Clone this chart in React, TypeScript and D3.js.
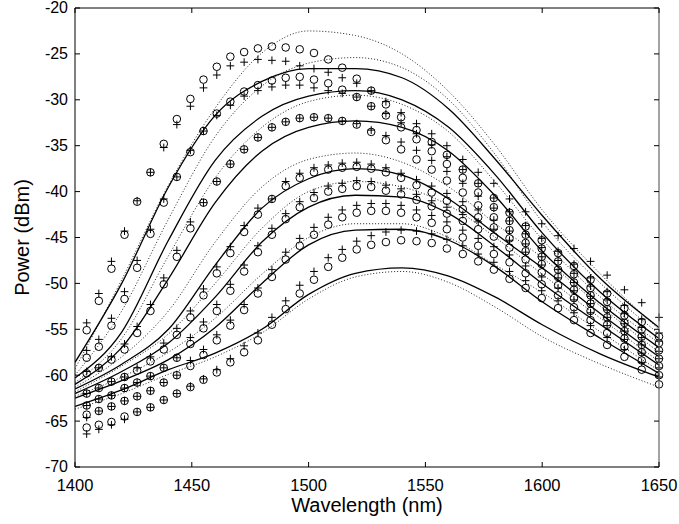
import React from "react";
import * as d3 from "d3";

// Sampled wavelengths (nm) of the marker data
const wavelengths = [1405, 1410.2, 1415.6, 1421.2, 1426.6, 1432.3, 1438, 1443.6, 1449.4, 1455, 1460.7, 1466.5, 1472.4, 1478.3, 1484.3, 1490.2, 1496.2, 1502.3, 1508.4, 1514.4, 1520.6, 1526.8, 1533.1, 1539.6, 1546.2, 1552.7, 1559.2, 1566, 1572.6, 1579.3, 1586, 1592.9, 1599.8, 1606.8, 1613.6, 1620.7, 1627.8, 1635.2, 1642.6, 1650];

// Measured power (dBm), circles
const measured1 = [-55.1, -51.9, -48.4, -44.7, -41.1, -37.9, -34.8, -32.1, -29.9, -27.8, -26.4, -25.3, -24.8, -24.4, -24.2, -24.3, -24.5, -24.9, -25.6, -26.5, -27.7, -29.0, -30.5, -31.9, -33.3, -34.6, -36.0, -37.6, -39.1, -40.7, -42.3, -43.8, -45.3, -46.7, -48.1, -49.6, -51.1, -52.7, -54.2, -55.8];
const measured2 = [-58.1, -56.9, -54.6, -51.7, -48.3, -44.6, -41.2, -38.4, -35.7, -33.4, -31.5, -30.2, -29.1, -28.4, -27.9, -27.6, -27.5, -27.8, -28.2, -28.9, -29.7, -30.7, -31.7, -33.0, -34.3, -35.6, -37.0, -38.5, -40.1, -41.7, -43.2, -44.7, -46.2, -47.6, -49.0, -50.5, -52.0, -53.5, -55.0, -56.5];
const measured3 = [-59.8, -59.2, -58.3, -57.2, -55.4, -53.0, -50.1, -47.1, -44.0, -41.2, -38.9, -37.0, -35.4, -34.1, -33.0, -32.4, -32.0, -31.9, -32.0, -32.3, -32.7, -33.5, -34.4, -35.4, -36.5, -37.6, -38.8, -40.1, -41.5, -42.8, -44.2, -45.6, -47.1, -48.5, -49.9, -51.3, -52.8, -54.3, -55.8, -57.3];
const measured4 = [-62.0, -61.4, -60.7, -60.2, -59.5, -58.5, -57.2, -55.6, -53.7, -51.3, -48.9, -46.7, -44.4, -42.5, -40.8, -39.4, -38.5, -37.9, -37.6, -37.4, -37.3, -37.5, -37.9, -38.5, -39.3, -40.1, -41.0, -41.9, -42.8, -43.9, -45.1, -46.5, -47.9, -49.3, -50.7, -52.2, -53.7, -55.2, -56.7, -58.2];
const measured5 = [-63.3, -62.6, -62.2, -61.4, -60.8, -60.1, -59.2, -58.1, -56.6, -54.9, -53.0, -50.8, -48.7, -46.6, -44.7, -43.0, -41.7, -40.7, -40.0, -39.7, -39.4, -39.5, -39.9, -40.3, -40.9, -41.6, -42.4, -43.2, -44.1, -44.9, -46.1, -47.4, -48.8, -50.2, -51.6, -53.0, -54.5, -56.0, -57.5, -59.0];
const measured6 = [-64.3, -63.9, -63.4, -62.8, -62.3, -61.7, -60.8, -60.0, -59.0, -57.8, -56.2, -54.6, -52.9, -51.1, -49.3, -47.4, -45.9, -44.7, -43.6, -42.8, -42.3, -42.1, -42.1, -42.3, -42.8, -43.4, -44.1, -45.0, -45.9, -46.8, -47.7, -48.9, -50.1, -51.3, -52.6, -54.0, -55.4, -56.9, -58.4, -60.0];
const measured7 = [-65.7, -65.4, -65.1, -64.5, -64.0, -63.5, -62.7, -62.0, -61.3, -60.5, -59.7, -58.6, -57.5, -56.2, -54.5, -52.8, -51.1, -49.6, -48.2, -47.2, -46.3, -45.8, -45.5, -45.3, -45.4, -45.6, -46.2, -46.8, -47.6, -48.5, -49.5, -50.5, -51.6, -52.7, -54.0, -55.4, -56.7, -58.0, -59.4, -61.0];

// Simulated power (dBm), plus signs
const simulated1 = [-54.3, -51.1, -47.6, -44.3, -41.0, -37.9, -35.2, -32.7, -30.7, -28.7, -27.3, -26.3, -25.9, -25.6, -25.7, -25.8, -26.3, -26.6, -27.0, -27.6, -28.2, -29.0, -30.2, -31.4, -32.6, -33.7, -35.0, -36.5, -37.9, -39.1, -40.8, -42.2, -43.5, -44.8, -46.2, -47.6, -49.1, -50.7, -52.1, -53.7];
const simulated2 = [-57.3, -56.1, -53.8, -50.9, -47.5, -44.1, -40.8, -38.4, -35.5, -33.4, -31.7, -30.6, -29.6, -29.0, -28.6, -28.4, -28.4, -28.7, -29.0, -29.3, -29.7, -30.7, -31.5, -32.5, -33.7, -34.9, -36.2, -37.6, -39.1, -40.7, -42.2, -43.7, -45.1, -46.5, -47.9, -49.4, -50.9, -52.4, -53.9, -55.4];
const simulated3 = [-59.6, -59.2, -58.0, -56.6, -54.7, -52.3, -49.4, -46.4, -43.3, -41.2, -38.9, -37.0, -35.4, -34.1, -33.0, -32.4, -32.0, -31.9, -32.0, -32.3, -32.6, -33.3, -33.9, -34.6, -35.5, -36.6, -37.8, -39.1, -40.5, -41.8, -43.2, -44.6, -46.1, -47.5, -48.9, -50.3, -51.8, -53.3, -54.8, -56.3];
const simulated4 = [-62.0, -61.4, -60.7, -60.2, -59.2, -58.0, -56.5, -54.9, -53.0, -50.6, -48.2, -46.0, -43.7, -41.8, -40.8, -38.9, -38.0, -37.4, -37.1, -36.9, -36.8, -37.0, -37.4, -38.0, -38.7, -39.4, -40.2, -41.1, -42.0, -43.1, -44.3, -45.7, -47.1, -48.5, -49.9, -51.4, -52.9, -54.4, -55.9, -57.4];
const simulated5 = [-63.3, -62.6, -62.2, -61.4, -60.8, -60.1, -59.2, -58.1, -55.9, -54.2, -52.3, -50.1, -48.0, -45.9, -44.0, -42.4, -41.1, -40.1, -39.4, -39.1, -38.8, -38.9, -39.3, -39.7, -40.3, -41.0, -41.7, -42.5, -43.3, -44.1, -45.3, -46.6, -48.0, -49.4, -50.8, -52.2, -53.7, -55.2, -56.7, -58.2];
const simulated6 = [-64.6, -63.9, -63.4, -62.8, -62.3, -61.7, -60.8, -60.0, -58.4, -57.2, -55.6, -54.0, -52.3, -50.5, -48.5, -46.6, -45.1, -43.9, -42.8, -42.0, -41.5, -41.3, -41.3, -41.5, -42.0, -42.6, -43.3, -44.2, -45.1, -46.0, -46.9, -48.1, -49.3, -50.5, -51.8, -53.2, -54.6, -56.1, -57.6, -59.2];
const simulated7 = [-66.4, -65.9, -65.4, -64.8, -64.0, -63.5, -62.7, -62.0, -61.2, -60.4, -59.4, -58.2, -56.8, -55.4, -53.7, -51.9, -50.2, -48.7, -47.2, -46.3, -45.4, -44.8, -44.4, -44.2, -44.3, -44.6, -45.2, -45.9, -46.8, -47.7, -48.7, -49.7, -50.8, -51.9, -53.2, -54.6, -55.9, -57.2, -58.6, -60.2];

// Model curves, sampled on a coarse wavelength grid
const curveGrid = [1400, 1420, 1440, 1460, 1480, 1500, 1520, 1540, 1560, 1580, 1600, 1625, 1650];
const solidFit1 = [-58.6, -50.0, -39.5, -31.7, -28.0, -26.6, -26.6, -27.6, -31.0, -36.5, -42.6, -49.5, -54.8];
const solidFit2 = [-60.3, -55.3, -45.3, -36.6, -31.8, -29.6, -29.0, -30.0, -33.0, -38.2, -44.5, -51.0, -56.0];
const solidFit3 = [-61.0, -57.0, -49.5, -41.2, -35.6, -33.0, -32.3, -33.0, -35.6, -40.5, -46.5, -52.2, -57.0];
const solidFit4 = [-61.5, -58.8, -55.0, -48.0, -41.8, -38.6, -37.5, -38.2, -40.8, -44.6, -48.3, -53.3, -58.0];
const solidFit5 = [-62.0, -59.6, -56.5, -51.5, -45.5, -41.7, -40.4, -40.6, -42.4, -46.0, -50.0, -54.5, -58.9];
const solidFit6 = [-62.5, -60.6, -58.3, -54.8, -50.0, -45.8, -44.2, -44.1, -45.3, -48.2, -52.0, -56.0, -59.8];
const solidFit7 = [-63.4, -61.6, -59.4, -57.6, -55.0, -51.2, -48.9, -48.3, -49.2, -51.5, -54.5, -57.7, -60.2];
const dottedFit1 = [-59.3, -49.6, -39.3, -30.9, -24.9, -22.5, -23.0, -25.0, -29.1, -35.0, -42.0, -49.0, -55.0];
const dottedFit2 = [-60.0, -53.0, -43.0, -34.0, -28.5, -26.0, -25.4, -26.5, -30.0, -36.0, -43.3, -50.0, -55.5];
const dottedFit3 = [-60.8, -56.0, -47.0, -38.5, -33.0, -30.2, -29.5, -30.5, -33.5, -39.0, -45.2, -51.5, -56.5];
const dottedFit4 = [-61.3, -58.0, -53.0, -45.5, -39.5, -36.5, -35.8, -36.8, -39.5, -43.5, -47.2, -52.5, -57.5];
const dottedFit5 = [-61.8, -59.0, -55.5, -50.0, -44.0, -40.0, -38.9, -39.5, -41.5, -45.0, -49.0, -53.8, -58.5];
const dottedFit6 = [-62.3, -60.2, -57.5, -53.8, -49.0, -45.0, -43.5, -43.5, -45.0, -48.0, -51.0, -55.3, -59.5];
const dottedFit7 = [-63.7, -62.0, -59.9, -58.0, -55.4, -51.7, -49.3, -48.7, -49.9, -52.6, -55.8, -58.8, -61.3];

const xTicks = [1400, 1450, 1500, 1550, 1600, 1650];
const yTicks = [-70, -65, -60, -55, -50, -45, -40, -35, -30, -25, -20];

const measuredSets = [measured1, measured2, measured3, measured4, measured5, measured6, measured7];
const simulatedSets = [simulated1, simulated2, simulated3, simulated4, simulated5, simulated6, simulated7];
const solidSets = [solidFit1, solidFit2, solidFit3, solidFit4, solidFit5, solidFit6, solidFit7];
const dottedSets = [dottedFit1, dottedFit2, dottedFit3, dottedFit4, dottedFit5, dottedFit6, dottedFit7];

const FONT = "'Liberation Sans', Arial, Helvetica, sans-serif";

export default function App() {
  const width = 679;
  const height = 524;
  const left = 75, right = 659, top = 8, bottom = 467;

  const x = d3.scaleLinear().domain([1400, 1650]).range([left, right]);
  const y = d3.scaleLinear().domain([-70, -20]).range([bottom, top]);

  const line = d3
    .line<number>()
    .x((_, i) => x(curveGrid[i]))
    .y((d) => y(d))
    .curve(d3.curveMonotoneX);

  const r = 3.8;
  const p = 3.9;
  const tick = 5;

  return (
    <svg
      width={width}
      height={height}
      viewBox={`0 0 ${width} ${height}`}
      style={{ position: "fixed", left: 0, top: 0, background: "#fff" }}
    >
      <rect x={0} y={0} width={width} height={height} fill="#fff" />
      <defs>
        <clipPath id="plot-area">
          <rect x={left} y={top} width={right - left} height={bottom - top} />
        </clipPath>
      </defs>

      <g clipPath="url(#plot-area)">
        {dottedSets.map((s, i) => (
          <path
            key={`d${i}`}
            d={line(s) || ""}
            fill="none"
            stroke="#222"
            strokeWidth={1}
            strokeDasharray="1 2"
          />
        ))}
        {solidSets.map((s, i) => (
          <path key={`s${i}`} d={line(s) || ""} fill="none" stroke="#000" strokeWidth={1.3} />
        ))}
      </g>

      <g fill="none" stroke="#000" strokeWidth={1}>
        {measuredSets.map((s, gi) =>
          s.map((v, i) => (
            <circle key={`c${gi}-${i}`} cx={x(wavelengths[i])} cy={y(v)} r={r} />
          ))
        )}
        {simulatedSets.map((s, gi) =>
          s.map((v, i) => {
            const cx = x(wavelengths[i]);
            const cy = y(v);
            return (
              <path
                key={`p${gi}-${i}`}
                d={`M${cx - p},${cy}H${cx + p}M${cx},${cy - p}V${cy + p}`}
              />
            );
          })
        )}
      </g>

      {/* frame */}
      <line x1={left} y1={top} x2={right} y2={top} stroke="#000" strokeWidth={1} />
      <line x1={right} y1={top} x2={right} y2={bottom} stroke="#666" strokeWidth={1.2} />
      <line x1={left} y1={top} x2={left} y2={bottom} stroke="#000" strokeWidth={1} />
      <line x1={left} y1={bottom} x2={right} y2={bottom} stroke="#000" strokeWidth={1} />

      {/* ticks */}
      <g stroke="#000" strokeWidth={1}>
        {xTicks.map((t) => (
          <g key={`xt${t}`}>
            <line x1={x(t)} x2={x(t)} y1={bottom} y2={bottom - tick} />
            <line x1={x(t)} x2={x(t)} y1={top} y2={top + tick} />
          </g>
        ))}
        {yTicks.map((t) => (
          <g key={`yt${t}`}>
            <line x1={left} x2={left + tick} y1={y(t)} y2={y(t)} />
            <line x1={right} x2={right - tick} y1={y(t)} y2={y(t)} />
          </g>
        ))}
      </g>

      {/* tick labels */}
      <g fontFamily={FONT} fill="#000">
        {xTicks.map((t) => (
          <text key={`xl${t}`} x={x(t)} y={491} textAnchor="middle" fontSize={16.5}>
            {t}
          </text>
        ))}
        {yTicks.map((t) => (
          <text key={`yl${t}`} x={68} y={y(t)} dy="0.34em" textAnchor="end" fontSize={16}>
            {t}
          </text>
        ))}
      </g>

      {/* axis titles */}
      <text
        x={(left + right) / 2}
        y={512}
        textAnchor="middle"
        fontFamily={FONT}
        fontSize={20}
        fill="#000"
      >
        Wavelength (nm)
      </text>
      <text
        transform={`translate(29, ${(top + bottom) / 2}) rotate(-90)`}
        textAnchor="middle"
        fontFamily={FONT}
        fontSize={20}
        fill="#000"
      >
        Power (dBm)
      </text>
    </svg>
  );
}
